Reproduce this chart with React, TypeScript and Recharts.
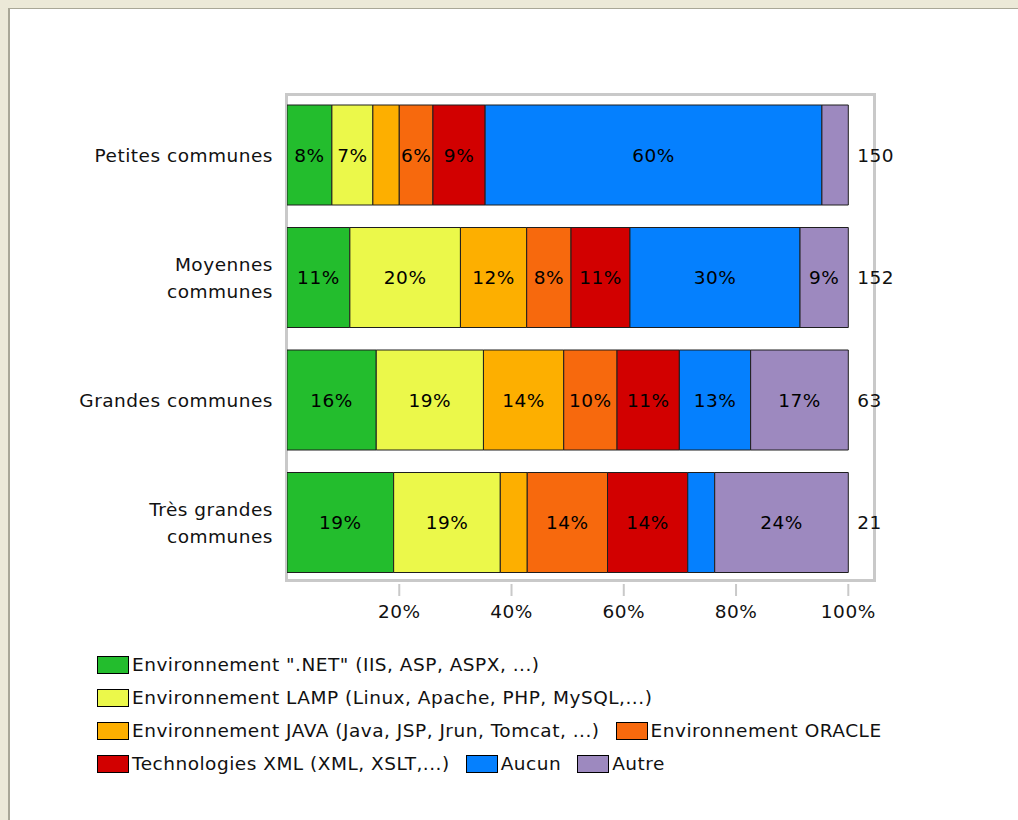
import React from 'react';
import { BarChart, Bar, XAxis, YAxis, LabelList, ReferenceArea } from 'recharts';

const categories = ['Petites communes', 'Moyennes communes', 'Grandes communes', 'Très grandes communes'];
const counts = [150, 152, 63, 21];

// share of each environment per category, in %
const dotnet = [8, 11.2, 15.9, 19];
const lamp = [7.3, 19.7, 19.1, 19];
const java = [4.7, 11.8, 14.3, 4.8];
const oracle = [6, 7.9, 9.5, 14.3];
const xml = [9.3, 10.5, 11.1, 14.3];
const aucun = [60, 30.3, 12.7, 4.8];
const autre = [4.7, 8.6, 17.4, 23.8];

const seriesKeys = ['dotnet', 'lamp', 'java', 'oracle', 'xml', 'aucun', 'autre'];
const seriesNames = [
  'Environnement ".NET" (IIS, ASP, ASPX, ...)',
  'Environnement LAMP (Linux, Apache, PHP, MySQL,...)',
  'Environnement JAVA (Java, JSP, Jrun, Tomcat, ...)',
  'Environnement ORACLE',
  'Technologies XML (XML, XSLT,...)',
  'Aucun',
  'Autre',
];
const seriesColors = ['#23bd2d', '#ebf84a', '#fdaf00', '#f7690d', '#d20000', '#0580fe', '#9d89bf'];
const seriesValues = [dotnet, lamp, java, oracle, xml, aucun, autre];

const xTicks = [20, 40, 60, 80, 100];

const FONT = '"DejaVu Sans", sans-serif';
const FS = 18.5;
const TXT = '#111';

const data = categories.map((name, i) => {
  const row: Record<string, any> = { name, count: counts[i] };
  seriesKeys.forEach((k, s) => {
    row[k] = seriesValues[s][i];
  });
  return row;
});

function splitLabel(s: string): string[] {
  if (s.length <= 16) return [s];
  const cut = s.lastIndexOf(' ');
  return [s.slice(0, cut), s.slice(cut + 1)];
}

function CategoryTick({ x, y, payload }: any) {
  const lines = splitLabel(payload.value);
  const gap = 27;
  const start = -((lines.length - 1) * gap) / 2;
  return (
    <text x={x} y={y} textAnchor="end" fontFamily={FONT} fontSize={FS} fill={TXT}>
      {lines.map((l, i) => (
        <tspan key={i} x={x} y={y + start + i * gap} dy="0.36em">
          {l}
        </tspan>
      ))}
    </text>
  );
}

const box = (props: any) => props.viewBox ?? props;

const renderPct = (props: any) => {
  const { x, y, width, height } = box(props);
  const v = Number(props.value);
  if (!(v >= 5.5)) return null;
  return (
    <text x={x + width / 2} y={y + height / 2} dy="0.36em" textAnchor="middle" fontFamily={FONT} fontSize={FS} fill="#000">
      {Math.round(v)}%
    </text>
  );
};

const renderCount = (props: any) => {
  const { x, y, width, height } = box(props);
  return (
    <text x={x + width + 9} y={y + height / 2} dy="0.36em" textAnchor="start" fontFamily={FONT} fontSize={FS} fill={TXT}>
      {props.value}
    </text>
  );
};

const Frame = (p: any) => (
  <rect x={p.x - 0.5} y={p.y + 0.5} width={p.width + 2} height={p.height - 4} fill="none" stroke="#c9c9c9" strokeWidth={3} />
);

export default function App() {
  return (
    <div
      style={{
        position: 'absolute',
        left: 0,
        top: 0,
        width: 1018,
        height: 820,
        background: '#ece9d8',
        overflow: 'hidden',
        letterSpacing: '0.5px',
      }}
    >
      <div
        style={{
          position: 'absolute',
          left: 8,
          top: 8,
          width: 1010,
          height: 812,
          background: '#fff',
          borderTop: '1px solid #a9a797',
          borderLeft: '2px solid #a9a797',
          boxSizing: 'border-box',
        }}
      />
      <div style={{ position: 'absolute', left: 0, top: 0 }}>
        <BarChart
          width={1018}
          height={640}
          data={data}
          layout="vertical"
          margin={{ top: 94, right: 145, bottom: 26, left: 0 }}
        >
          <ReferenceArea x1={0} x2={104.4} shape={Frame} ifOverflow="visible" />
          <XAxis
            type="number"
            domain={[0, 104.4]}
            ticks={xTicks}
            tickFormatter={(v) => `${v}%`}
            axisLine={false}
            tickLine={{ stroke: '#c9c9c9', strokeWidth: 2 }}
            tickSize={12}
            tickMargin={9}
            tick={{ fontFamily: FONT, fontSize: FS, fill: TXT }}
            allowDataOverflow
          />
          <YAxis
            type="category"
            dataKey="name"
            width={287}
            axisLine={false}
            tickLine={false}
            tickSize={0}
            tickMargin={14}
            tick={<CategoryTick />}
          />
          {seriesKeys.map((k, s) => (
            <Bar
              key={k}
              dataKey={k}
              name={seriesNames[s]}
              stackId="a"
              fill={seriesColors[s]}
              stroke="#1e1e1e"
              strokeWidth={1}
              barSize={100}
              isAnimationActive={false}
            >
              <LabelList dataKey={k} content={renderPct} />
              {k === 'autre' && <LabelList dataKey="count" content={renderCount} />}
            </Bar>
          ))}
        </BarChart>
      </div>
      <div
        style={{
          position: 'absolute',
          left: 97,
          top: 648,
          width: 850,
          display: 'flex',
          flexWrap: 'wrap',
          fontFamily: FONT,
          fontSize: FS,
          color: TXT,
          lineHeight: '33px',
        }}
      >
        {seriesNames.map((n, s) => (
          <div key={n} style={{ display: 'flex', alignItems: 'center', marginRight: 16, whiteSpace: 'nowrap' }}>
            <span
              style={{
                display: 'inline-block',
                width: 30,
                height: 16,
                background: seriesColors[s],
                border: '1px solid #000',
                marginRight: 3,
              }}
            />
            {n}
          </div>
        ))}
      </div>
    </div>
  );
}
